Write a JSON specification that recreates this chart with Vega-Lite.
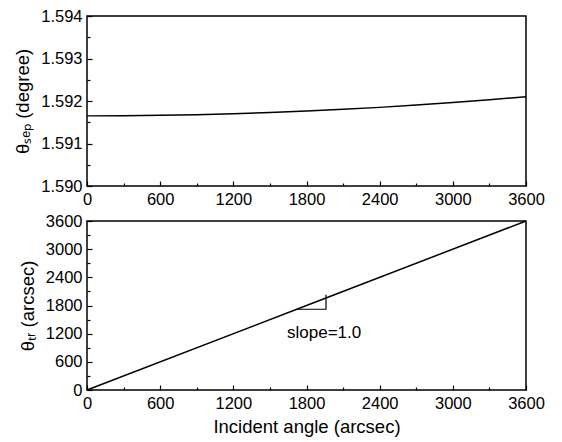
{
  "$schema": "https://vega.github.io/schema/vega-lite/v6.json",
  "padding": {"left": 12, "top": 7, "right": 5, "bottom": 5},
  "background": "white",
  "spacing": 35,
  "bounds": "flush",
  "config": {
    "font": "Liberation Sans",
    "view": {"stroke": "black", "strokeWidth": 1.5},
    "axis": {
      "grid": false, "domain": false,
      "labelFont": "Liberation Sans", "titleFont": "Liberation Sans",
      "labelFontSize": 16.5, "titleFontSize": 18.5, "titleFontWeight": "normal",
      "labelColor": "black", "titleColor": "black", "tickColor": "black",
      "tickSize": -5, "tickWidth": 1.2, "labelPadding": 10, "labelFlush": false, "labelOverlap": false
    }
  },
  "vconcat": [
    {
      "width": 439, "height": 170,
      "data": {"values": [
        {"angle": 0, "sep": 1.59165},
        {"angle": 300, "sep": 1.591653},
        {"angle": 600, "sep": 1.591663},
        {"angle": 900, "sep": 1.591678},
        {"angle": 1200, "sep": 1.5917},
        {"angle": 1500, "sep": 1.591728},
        {"angle": 1800, "sep": 1.591763},
        {"angle": 2100, "sep": 1.591803},
        {"angle": 2400, "sep": 1.59185},
        {"angle": 2700, "sep": 1.591903},
        {"angle": 3000, "sep": 1.591963},
        {"angle": 3300, "sep": 1.592028},
        {"angle": 3600, "sep": 1.5921}
      ]},
      "layer": [
        {
          "mark": {"type": "line", "color": "black", "strokeWidth": 1.5},
          "encoding": {
            "x": {"field": "angle", "type": "quantitative", "scale": {"domain": [0, 3600], "nice": false},
                  "axis": {"orient": "bottom", "values": [0, 600, 1200, 1800, 2400, 3000, 3600], "format": "d", "title": null}},
            "y": {"field": "sep", "type": "quantitative", "scale": {"domain": [1.59, 1.594], "nice": false, "zero": false},
                  "axis": {"orient": "left", "values": [1.59, 1.591, 1.592, 1.593, 1.594], "format": ".3f", "title": "θₛₑₚ (degree)", "titlePadding": 8}}
          }
        },
        {
          "mark": {"type": "line", "strokeOpacity": 0},
          "encoding": {
            "x": {"field": "angle", "type": "quantitative",
                  "axis": {"orient": "bottom", "values": [300, 900, 1500, 2100, 2700, 3300], "labels": false, "title": null, "tickSize": -3}},
            "y": {"field": "sep", "type": "quantitative",
                  "axis": {"orient": "left", "values": [1.5905, 1.5915, 1.5925, 1.5935], "labels": false, "title": null, "tickSize": -3}}
          }
        }
      ],
      "resolve": {"axis": {"x": "independent", "y": "independent"}}
    },
    {
      "width": 439, "height": 169,
      "layer": [
        {
          "data": {"values": [
            {"angle": 0, "tr": 0},
            {"angle": 1800, "tr": 1800},
            {"angle": 3600, "tr": 3600}
          ]},
          "mark": {"type": "line", "color": "black", "strokeWidth": 1.5},
          "encoding": {
            "x": {"field": "angle", "type": "quantitative", "scale": {"domain": [0, 3600], "nice": false},
                  "axis": {"orient": "bottom", "values": [0, 600, 1200, 1800, 2400, 3000, 3600], "format": "d", "title": "Incident angle (arcsec)", "titlePadding": 6}},
            "y": {"field": "tr", "type": "quantitative", "scale": {"domain": [0, 3600], "nice": false},
                  "axis": {"orient": "left", "values": [0, 600, 1200, 1800, 2400, 3000, 3600], "format": "d", "title": "θₜᵣ (arcsec)", "titlePadding": 8}}
          }
        },
        {
          "data": {"values": [
            {"angle": 0, "tr": 0},
            {"angle": 3600, "tr": 3600}
          ]},
          "mark": {"type": "line", "strokeOpacity": 0},
          "encoding": {
            "x": {"field": "angle", "type": "quantitative",
                  "axis": {"orient": "bottom", "values": [300, 900, 1500, 2100, 2700, 3300], "labels": false, "title": null, "tickSize": -3}},
            "y": {"field": "tr", "type": "quantitative",
                  "axis": {"orient": "left", "values": [300, 900, 1500, 2100, 2700, 3300], "labels": false, "title": null, "tickSize": -3}}
          }
        },
        {
          "data": {"values": [
            {"angle": 1720, "tr": 1720, "seq": 1},
            {"angle": 1960, "tr": 1720, "seq": 2},
            {"angle": 1960, "tr": 2030, "seq": 3}
          ]},
          "mark": {"type": "line", "color": "black", "strokeWidth": 1.2},
          "encoding": {
            "x": {"field": "angle", "type": "quantitative", "axis": null},
            "y": {"field": "tr", "type": "quantitative", "axis": null},
            "order": {"field": "seq"}
          }
        },
        {
          "data": {"values": [{"angle": 1640, "tr": 1214, "label": "slope=1.0"}]},
          "mark": {"type": "text", "align": "left", "baseline": "middle", "fontSize": 17, "font": "Liberation Sans", "color": "black"},
          "encoding": {
            "x": {"field": "angle", "type": "quantitative", "axis": null},
            "y": {"field": "tr", "type": "quantitative", "axis": null},
            "text": {"field": "label"}
          }
        }
      ],
      "resolve": {"axis": {"x": "independent", "y": "independent"}}
    }
  ]
}
